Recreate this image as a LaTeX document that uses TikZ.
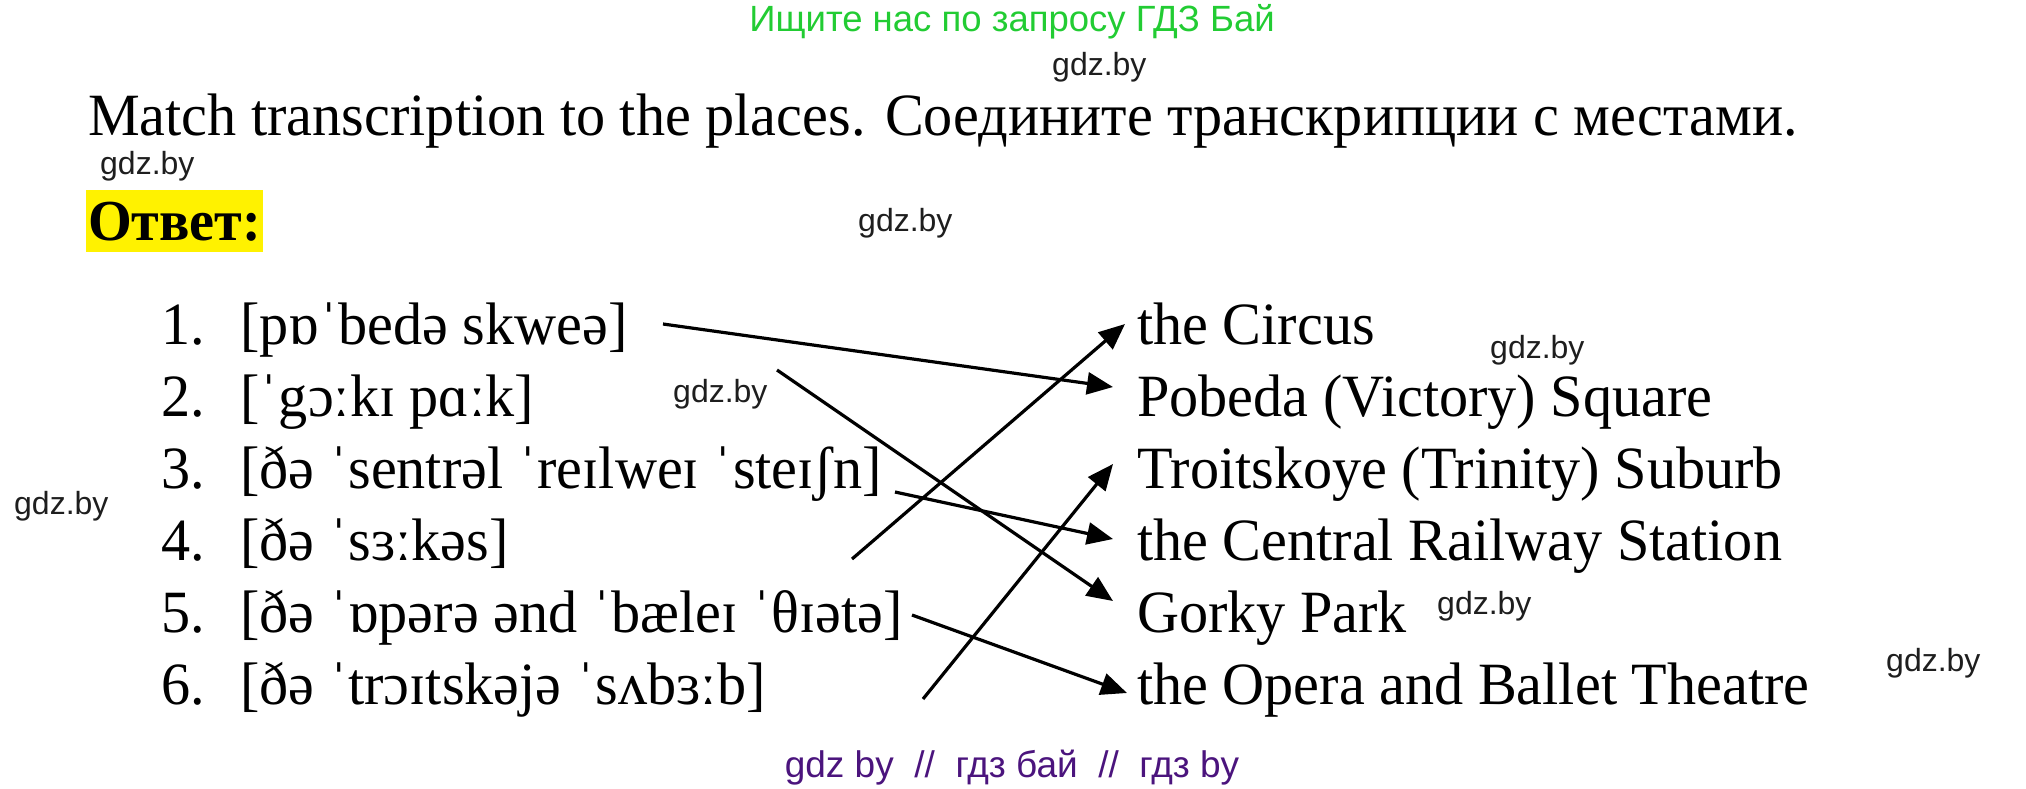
\documentclass[tikz,border=0pt]{standalone}
\usepackage{fontspec}
\setmainfont[FakeStretch=0.97]{Liberation Serif}
\setsansfont{Liberation Sans}
\usetikzlibrary{arrows.meta,positioning}
\definecolor{gdzgreen}{RGB}{34,204,51}
\definecolor{gdzpurple}{RGB}{75,20,125}
\definecolor{wmgray}{RGB}{30,30,30}

\begin{document}
\begin{tikzpicture}[x=1pt,y=-1pt,
    big/.style={inner sep=0pt, anchor=base west, font=\fontsize{60}{72}\selectfont},
    wmark/.style={inner sep=0pt, anchor=base west, text=wmgray, font=\sffamily\fontsize{32}{38}\selectfont},
    link/.style={-{Triangle[length=26pt,width=22pt]}, line width=3.2pt}]
    \useasboundingbox (0,0) rectangle (2026,788);

    %% Header and task
    \node[inner sep=0pt, anchor=base, text=gdzgreen, font=\sffamily\fontsize{36.5}{42}\selectfont] (head) at (1012,31) {Ищите нас по запросу ГДЗ Бай};
    \node[big] (task) at (88,135) {Match transcription to the places. Соедините транскрипции с местами.};
    \node[anchor=base west, fill=yellow, inner xsep=2pt, inner ysep=0pt, text height=50pt, text depth=12pt, font=\bfseries\fontsize{58}{70}\selectfont] (answer) at (86,240) {Ответ:};

    %% Watermarks
    \node[wmark] (wm1) at (1052,75) {gdz.by};
    \node[wmark] (wm2) at (100,174) {gdz.by};
    \node[wmark] (wm3) at (858,231) {gdz.by};
    \node[wmark] (wm4) at (1490,358) {gdz.by};
    \node[wmark] (wm5) at (673,402) {gdz.by};
    \node[wmark] (wm6) at (14,514) {gdz.by};
    \node[wmark] (wm7) at (1437,614) {gdz.by};
    \node[wmark] (wm8) at (1886,671) {gdz.by};

    %% Transcriptions
    \node[big] (num1) at (161,344) {1.};
    \node[big] (num2) at (161,416) {2.};
    \node[big] (num3) at (161,488) {3.};
    \node[big] (num4) at (161,560) {4.};
    \node[big] (num5) at (161,632) {5.};
    \node[big] (num6) at (161,704) {6.};
    \node[big] (tr1) at (240,344) {[pɒˈbedə skweə]};
    \node[big] (tr2) at (240,416) {[ˈgɔːkɪ pɑːk]};
    \node[big] (tr3) at (240,488) {[ðə ˈsentrəl ˈreɪlweɪ ˈsteɪʃn]};
    \node[big] (tr4) at (240,560) {[ðə ˈsɜːkəs]};
    \node[big] (tr5) at (240,632) {[ðə ˈɒpərə ənd ˈbæleɪ ˈθɪətə]};
    \node[big] (tr6) at (240,704) {[ðə ˈtrɔɪtskəjə ˈsʌbɜːb]};

    %% Places
    \node[big] (circus) at (1137,344) {the Circus};
    \node[big] (pobeda) at (1137,416) {Pobeda (Victory) Square};
    \node[big] (troitsk) at (1137,488) {Troitskoye (Trinity) Suburb};
    \node[big] (station) at (1137,560) {the Central Railway Station};
    \node[big] (gorky) at (1137,632) {Gorky Park};
    \node[big] (opera) at (1137,704) {the Opera and Ballet Theatre};

    %% Matching arrows
    \coordinate (s1) at (663,324);
    \coordinate (s2) at (777,370);
    \coordinate (s3) at (895,492);
    \coordinate (s4) at (852,559);
    \coordinate (s5) at (912,615);
    \coordinate (s6) at (923,699);
    \draw[link] (s1) -- ([shift={(-24,-29)}]pobeda.base west);
    \draw[link] (s2) -- ([shift={(-24,-31)}]gorky.base west);
    \draw[link] (s3) -- ([shift={(-24,-21)}]station.base west);
    \draw[link] (s4) -- ([shift={(-12,-20)}]circus.base west);
    \draw[link] (s5) -- ([shift={(-10,-11)}]opera.base west);
    \draw[link] (s6) -- ([shift={(-24,-24)}]troitsk.base west);

    %% Footer
    \node[inner sep=0pt, anchor=base, text=gdzpurple, font=\sffamily\fontsize{37}{44}\selectfont] (foot) at (1012,777) {gdz by\ \ //\ \ гдз бай\ \ //\ \ гдз by};
\end{tikzpicture}
\end{document}
